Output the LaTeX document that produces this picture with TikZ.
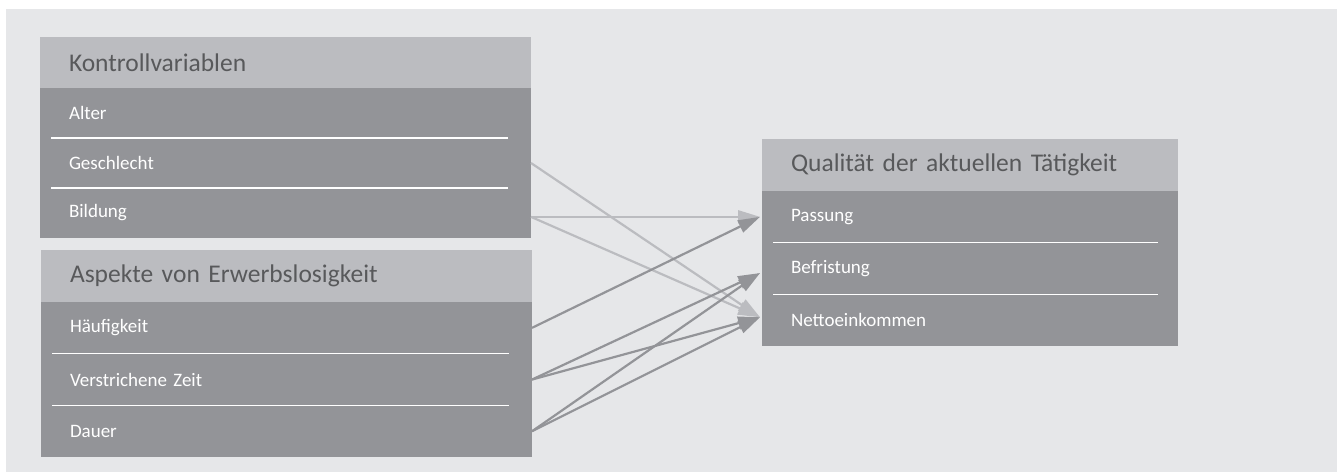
\documentclass[tikz,border=0pt]{standalone}
\usepackage{fontspec}
\setmainfont{Carlito}
\usepackage{tikz}
\usetikzlibrary{arrows.meta,positioning}
\definecolor{bggray}{HTML}{E6E7E9}
\definecolor{headgray}{HTML}{BBBCC0}
\definecolor{bodygray}{HTML}{939498}
\definecolor{titlegray}{HTML}{58595B}
\tikzset{
  box/.style={rectangle,draw=none,align=left,inner xsep=29pt,inner ysep=0pt,
    outer sep=0pt,text width=#1-58pt,minimum width=#1},
  head/.style={box=#1,fill=headgray,text=titlegray,
    font=\fontsize{25.5}{28}\selectfont},
  row/.style={box=#1,fill=bodygray,text=white,
    font=\fontsize{19}{22}\selectfont},
  sep/.style={white,line width=1.4pt},
  link/.style={-{Triangle[length=22pt,width=13pt]},line width=2.2pt},
  light/.style={link,headgray},
  dark/.style={link,bodygray}
}
\begin{document}
\begin{tikzpicture}[x=1pt,y=1pt,node distance=0pt]
\useasboundingbox (0,0) rectangle (1343,-472);
\fill[bggray] (6,-9) rectangle (1337,-472);
% Kontrollvariablen
\node[head=491pt,minimum height=51pt,anchor=north west] (kv) at (40,-37) {Kontrollvariablen};
\node[row=491pt,minimum height=50pt,below=of kv] (alter) {Alter};
\node[row=491pt,minimum height=50pt,below=of alter] (geschl) {Geschlecht};
\node[row=491pt,minimum height=50pt,below=of geschl] (bildung) {Bildung};
% Aspekte von Erwerbslosigkeit
\node[head=491pt,minimum height=52pt,anchor=north west] (asp) at (41,-250) {Aspekte von Erwerbslosigkeit};
\node[row=491pt,minimum height=51.7pt,below=of asp] (haeuf) {Häufigkeit};
\node[row=491pt,minimum height=51.7pt,below=of haeuf] (verstr) {Verstrichene Zeit};
\node[row=491pt,minimum height=51.7pt,below=of verstr] (dauer) {Dauer};
% Qualitaet der aktuellen Taetigkeit
\node[head=416pt,minimum height=52pt,anchor=north west] (qual) at (762,-139) {Qualität der aktuellen Tätigkeit};
\node[row=416pt,minimum height=51.7pt,below=of qual] (passung) {Passung};
\node[row=416pt,minimum height=51.7pt,below=of passung] (befrist) {Befristung};
\node[row=416pt,minimum height=51.7pt,below=of befrist] (netto) {Nettoeinkommen};
\foreach \r in {alter,geschl,haeuf,verstr}
  \draw[sep] ([xshift=11pt]\r.south west) -- ([xshift=-23pt]\r.south east);
\foreach \r in {passung,befrist}
  \draw[sep] ([xshift=11pt]\r.south west) -- ([xshift=-20pt]\r.south east);
% arrow tips
\coordinate (tpass) at ([xshift=-2pt]passung.west);
\coordinate (tbef) at ([xshift=-2pt,yshift=-4.5pt]befrist.west);
\coordinate (tnet) at ([xshift=-2pt,yshift=3pt]netto.west);
\coordinate (sbild) at (bildung.east |- tpass);
\draw[light] (geschl.east) -- (tnet);
\draw[light] (sbild) -- (tpass);
\draw[light] (sbild) -- (tnet);
\draw[dark] (haeuf.east) -- (tpass);
\foreach \s in {verstr,dauer} {
  \draw[dark] (\s.east) -- (tbef);
  \draw[dark] (\s.east) -- (tnet);
}
\end{tikzpicture}
\end{document}
